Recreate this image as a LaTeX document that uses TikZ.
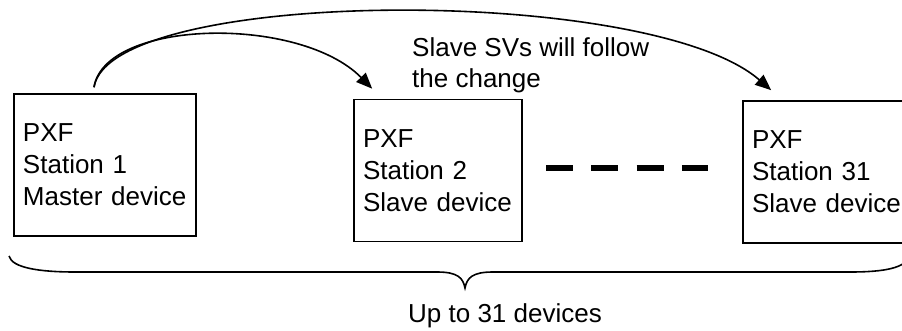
\documentclass[tikz,border=0pt]{standalone}
\usepackage{fontspec}
\setmainfont{Liberation Sans}
\usetikzlibrary{arrows.meta}
\begin{document}
\begin{tikzpicture}[x=1pt, y=-1pt, >={Triangle[length=16pt,width=13pt]},
  station/.style={draw, line width=1.6pt, align=left, inner xsep=9pt, inner ysep=0pt,
    minimum height=142pt, font=\fontsize{26}{32}\selectfont},
  lbl/.style={inner sep=0pt, font=\fontsize{26}{31}\selectfont}]

\useasboundingbox (0,0) rectangle (902,331);

\node[station, text width=164pt] (master) at (105,165) {PXF\\Station 1\\Master device};
\node[station, text width=150pt] (slaveA) at (438,170.5) {PXF\\Station 2\\Slave device};
\node[station, text width=154pt] (slaveB) at (829,172) {PXF\\Station 31\\Slave device};

% dots between station 2 and 31
\coordinate (dA) at (546,168);
\coordinate (dB) at (708,168);
\draw[line width=6pt, dash pattern=on 27pt off 18.3pt] (dA) -- (dB);

\draw[->, line width=1.6pt] ([shift={(-11,-6)}]master.north) .. controls +(11,-68) and +(-73,-74) .. ([shift={(19,-10)}]slaveA.north west);
\draw[->, line width=1.6pt] ([shift={(-11,-6)}]master.north) .. controls +(16,-100) and +(-122,-106) .. ([shift={(29,-10)}]slaveB.north west);
\node[lbl, anchor=base west, align=left] (follow) at (412,88) {Slave SVs will follow\\the change};

% brace
\draw[line width=1.6pt] (9,256) .. controls (12,268) and (40,272) .. (75,272) -- (437,272)
  .. controls (458,272) and (463,278) .. (465,288) .. controls (467,278) and (472,272) .. (493,272)
  -- (850,272) .. controls (885,272) and (905,268) .. (910,256);
\node[lbl, anchor=base] (count) at (505,322) {Up to 31 devices};
\end{tikzpicture}
\end{document}
